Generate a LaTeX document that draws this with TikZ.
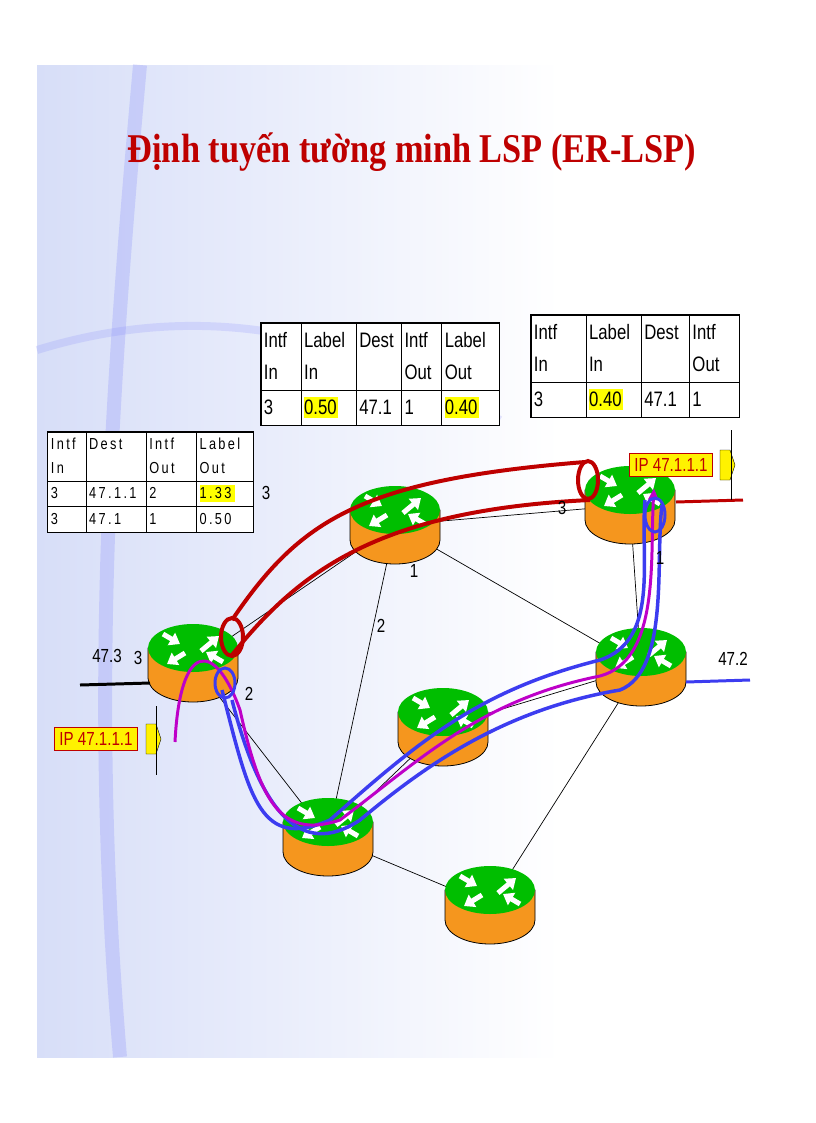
\documentclass[tikz,border=0pt]{standalone}
\usepackage{fontspec}
\setmainfont{Liberation Serif}
\newfontfamily\sans[FakeStretch=0.8]{Liberation Sans}
\newfontfamily\titlefont[FakeStretch=0.84]{Liberation Serif}
\usepackage{colortbl}
\usetikzlibrary{shapes.geometric,arrows.meta}
\definecolor{rgreen}{RGB}{0,190,0}
\definecolor{rorange}{RGB}{245,150,30}
\definecolor{tred}{RGB}{190,0,0}
\definecolor{pblue}{RGB}{60,60,240}
\definecolor{pmag}{RGB}{190,0,200}
\definecolor{hy}{RGB}{255,255,0}
\definecolor{bgb}{RGB}{215,222,248}
\tikzset{
 lnk/.style={black,line width=0.7pt},
 tbl/.style={draw=black,line width=1pt,fill=white,inner sep=0pt,font=\sans\fontsize{21}{22}\selectfont},
 ipbox/.style={draw=tred,line width=1pt,fill=yellow,text=tred,font=\sans\fontsize{19}{21}\selectfont,inner sep=5pt},
 lbl/.style={font=\sans\fontsize{19}{21}\selectfont}
}
\begin{document}
\begin{tikzpicture}[x=1bp,y=-1bp]
\useasboundingbox (0,0) rectangle (816,1123);
\fill[white] (0,0) rectangle (816,1123);
\shade[left color=bgb,right color=white] (37,65) rectangle (560,1057);
\draw[bgb!60!blue,line width=14pt,opacity=0.25] (140,65) .. controls (110,400) and (90,700) .. (120,1057);
\draw[bgb!60!blue,line width=8pt,opacity=0.2] (37,350) .. controls (200,300) and (350,330) .. (500,420);
\node[font=\titlefont\bfseries\fontsize{41}{44}\selectfont,text=tred] (title) at (412,152) {Định tuyến tường minh LSP (ER-LSP)};
\coordinate (R1) at (193,663);
\coordinate (R2) at (395,525);
\coordinate (R3) at (630,505);
\coordinate (R4) at (641,667);
\coordinate (R5) at (443,727);
\coordinate (R6) at (328,837);
\coordinate (R7) at (490,905);
\draw[lnk] (R1) -- (R2); \draw[lnk] (R1) -- (R6);
\draw[lnk] (R2) -- (R3); \draw[lnk] (R2) -- (R4);
\draw[lnk] (R2) -- (R6); \draw[lnk] (R3) -- (R4);
\draw[lnk] (R5) -- (R4); \draw[lnk] (R4) -- (R7);
\draw[lnk] (R6) -- (R7); \draw[lnk] (R6) -- (R5);
\foreach \x/\y in {193/648,395/510,630/490,641/652,443/712,328/822,490/890}{
 \fill[rorange,draw=black,line width=0.8pt] (\x-45,\y) -- (\x-45,\y+30) arc[start angle=180,end angle=0,x radius=45,y radius=24] -- (\x+45,\y) -- cycle;
 \fill[rgreen] (\x,\y) ellipse[x radius=45,y radius=24];
 \begin{scope}[shift={(\x,\y)},white,line width=5pt,-{Triangle[length=10pt,width=14pt]}]
  \draw (-30,-14)--(-13,-4); \draw (8,3)--(26,-12);
  \draw (-8,5)--(-26,16); \draw (30,14)--(13,4);
 \end{scope}}
% external lines
\coordinate (e1) at (80,685); \coordinate (e1b) at (150,683);
\draw[black,line width=3pt] (e1) -- (e1b);
\coordinate (e4) at (750,680); \coordinate (e4b) at (686,682);
\draw[pblue,line width=3pt] (e4b) -- (e4);
\coordinate (e3) at (743,500); \coordinate (e3b) at (676,502);
\draw[tred,line width=3pt] (e3b) -- (e3);
% red tunnel
\draw[tred,line width=4pt] (232,620) .. controls (300,520) and (360,480) .. (585,462);
\draw[tred,line width=4pt] (232,655) .. controls (300,570) and (380,510) .. (590,500);
\draw[tred,line width=4pt] (232,637) ellipse[x radius=11,y radius=19];
\draw[tred,line width=4pt] (588,480) ellipse[x radius=10,y radius=19];
% blue/magenta LSP
\draw[pblue,line width=3.5pt] (222,690) .. controls (250,800) and (260,850) .. (330,820) .. controls (420,740) and (480,690) .. (600,660) .. controls (660,640) and (640,560) .. (645,500);
\draw[pblue,line width=3.5pt] (232,700) .. controls (260,810) and (300,860) .. (360,820) .. controls (420,770) and (500,710) .. (620,690) .. controls (670,670) and (655,560) .. (662,505);
\draw[pmag,line width=3pt,-{Triangle[length=12pt,width=10pt]}] (175,742) .. controls (180,640) and (215,640) .. (240,710) .. controls (260,800) and (280,840) .. (340,820) .. controls (420,760) and (480,700) .. (600,676) .. controls (660,660) and (650,560) .. (654,488);
\draw[pblue,line width=3pt] (225,683) ellipse[x radius=10,y radius=15];
\draw[pblue,line width=3pt] (655,515) ellipse[x radius=10,y radius=17];
% labels
\node[lbl] (l473) at (107,656) {47.3};
\node[lbl] (l3a) at (138,658) {3};
\node[lbl] (l2a) at (249,694) {2};
\node[lbl] (l3b) at (266,493) {3};
\node[lbl] (l2b) at (381,626) {2};
\node[lbl] (l1b) at (414,571) {1};
\node[lbl] (l3c) at (562,508) {3};
\node[lbl] (l1c) at (660,558) {1};
\node[lbl] (l472) at (733,659) {47.2};
% IP boxes
\node[ipbox] (ip1) at (96,739) {IP 47.1.1.1};
\fill[yellow,draw=black] (146,724) -- (156,724) -- (161,739) -- (156,754) -- (146,754) -- cycle;
\draw[black] (156,706) -- (156,775);
\node[ipbox] (ip2) at (671,465) {IP 47.1.1.1};
\fill[yellow,draw=black] (720,450) -- (730,450) -- (735,465) -- (730,480) -- (720,480) -- cycle;
\draw[black] (731,430) -- (731,500);
% tables
\node[tbl,anchor=north west] (t1) at (47,431) {\setlength{\tabcolsep}{3pt}\renewcommand{\arraystretch}{1.05}%
\fontsize{16}{24}\selectfont\addfontfeature{LetterSpace=15}%
\begin{tabular}{|p{32pt}|p{54pt}|p{44pt}|p{51pt}|}\hline
Intf\newline In & Dest & Intf\newline Out & Label\newline Out\\\hline
3 & 47.1.1 & 2 & \colorbox{hy}{\makebox[30pt][l]{\hspace{-3pt}1.33}}\\\hline
3 & 47.1 & 1 & 0.50\\\hline
\end{tabular}};
\node[tbl,anchor=north west] (t2) at (260,322) {\setlength{\tabcolsep}{3pt}\renewcommand{\arraystretch}{1.1}%
\fontsize{21}{32}\selectfont
\begin{tabular}{|p{34pt}|p{49pt}|p{39pt}|p{34pt}|p{51pt}|}\hline
Intf\newline In & Label\newline In & Dest & Intf\newline Out & Label\newline Out\\\hline
3 & \colorbox{hy}{\makebox[28pt][l]{\hspace{-3pt}0.50}} & 47.1 & 1 & \colorbox{hy}{\makebox[28pt][l]{\hspace{-3pt}0.40}}\\\hline
\end{tabular}};
\node[tbl,anchor=north west] (t3) at (530,314) {\setlength{\tabcolsep}{3pt}\renewcommand{\arraystretch}{1.1}%
\fontsize{21}{32}\selectfont
\begin{tabular}{|p{49pt}|p{49pt}|p{42pt}|p{44pt}|}\hline
Intf\newline In & Label\newline In & Dest & Intf\newline Out\\\hline
3 & \colorbox{hy}{\makebox[28pt][l]{\hspace{-3pt}0.40}} & 47.1 & 1\\\hline
\end{tabular}};
\end{tikzpicture}
\end{document}
